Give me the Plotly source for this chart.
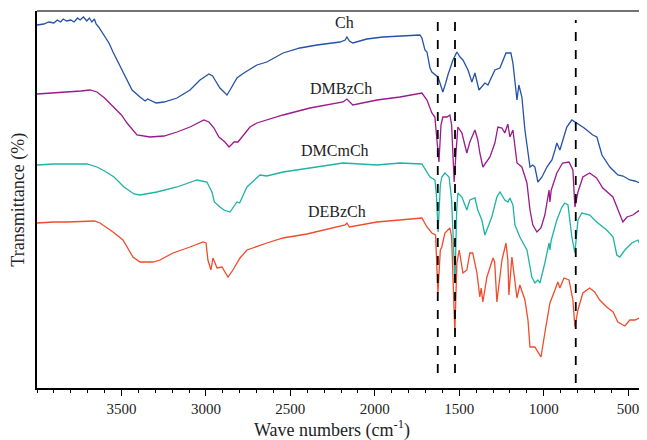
import plotly.graph_objects as go

# ---- data (wavenumber, relative transmittance, offset stacked) ----
ch_wn = [4000,3960,3930,3900,3880,3860,3845,3825,3800,3780,3760,3745,3725,3705,3690,3675,3660,3650,3635,3615,3595,3574,3550,3526,3500,3479,3437,3390,3360,3345,3331,3295,3248,3171,3094,3035,2982,2960,2946,2917,2899,2875,2857,2835,2816,2775,2698,2639,2543,2443,2342,2206,2175,2165,2150,2130,2047,1951,1851,1751,1733,1721,1703,1691,1673,1662,1645,1626,1610,1597,1580,1567,1537,1514,1495,1478,1448,1425,1407,1383,1348,1330,1289,1259,1223,1194,1182,1158,1147,1129,1111,1081,1065,1052,1034,1010,981,951,933,922,904,863,833,803,760,709,685,655,608,561,530,490,460,430,419,410,400]
ch_t = [363,364,366,365,368,366,369,367,368,366,370,368,371,367,370,366,369,364,361,356,351,345,336,328,319,311,298,291,287,289,288,285,286,290,298,308,314,312,308,300,297,293,298,304,310,315,323,326,335,340,343,346,348,351,347,345,349,351,352,353,353,350,338,336,320,316,314,311,303,296,305,313,328,336,331,328,318,306,315,298,305,303,318,320,335,335,325,288,303,291,258,221,223,221,206,211,221,228,238,245,238,261,268,265,260,253,251,233,221,213,212,208,207,205,201,207,203]

dmbz_wn = [4000,3900,3805,3740,3686,3645,3600,3544,3500,3467,3430,3408,3331,3248,3171,3094,3012,2982,2952,2923,2887,2863,2845,2834,2810,2775,2739,2698,2639,2543,2384,2188,2165,2130,1987,1851,1721,1703,1691,1662,1644,1632,1620,1608,1597,1573,1555,1545,1530,1518,1508,1484,1455,1437,1407,1390,1378,1360,1318,1289,1271,1247,1230,1212,1200,1182,1158,1129,1099,1081,1064,1040,1016,993,968,963,955,922,888,850,827,815,797,768,728,687,650,590,560,531,507,472,430,419,405]
dmbz_t = [294,295,296,297,298,296,290,281,273,265,257,253,251,252,256,261,268,266,260,251,246,241,244,246,246,253,261,265,268,273,280,286,289,283,288,291,295,291,288,275,271,248,226,263,271,271,273,263,206,238,261,255,235,246,258,248,235,221,231,245,261,260,255,264,251,258,225,221,205,178,163,156,160,173,198,186,198,215,225,226,218,181,196,211,215,210,200,191,178,166,171,173,178,183,185]

dmcm_wn = [4000,3900,3805,3704,3645,3600,3544,3485,3426,3390,3290,3171,3053,2994,2964,2950,2917,2893,2857,2830,2816,2800,2757,2680,2639,2543,2384,2188,1987,1851,1721,1691,1673,1644,1635,1625,1612,1603,1585,1560,1545,1525,1515,1508,1484,1455,1437,1407,1390,1366,1348,1307,1277,1259,1230,1212,1200,1182,1170,1141,1099,1070,1052,1034,1022,993,968,963,955,922,892,875,856,833,815,797,774,727,686,627,589,567,549,519,478,442,419,405]
dmcm_t = [223,224,224,224,221,217,211,201,194,193,196,201,208,206,196,186,181,178,176,182,186,185,201,213,212,216,220,225,223,225,224,215,211,208,193,156,203,211,215,211,188,105,178,195,191,178,188,190,178,168,153,171,191,196,188,186,190,183,163,151,138,111,105,108,105,125,145,138,148,168,181,185,183,151,135,168,175,173,166,158,151,133,131,138,145,148,140,143]

debz_wn = [4000,3900,3822,3704,3660,3627,3590,3550,3491,3432,3390,3313,3272,3195,3094,3017,2999,2988,2970,2958,2934,2905,2869,2840,2798,2757,2639,2543,2402,2265,2175,2165,2150,1987,1851,1721,1691,1662,1640,1626,1612,1603,1585,1555,1545,1526,1514,1500,1478,1455,1437,1420,1395,1378,1370,1360,1336,1318,1300,1290,1277,1247,1223,1212,1206,1188,1170,1158,1141,1111,1093,1081,1052,1040,1016,993,963,933,916,904,880,850,827,815,797,768,728,698,668,627,589,561,519,490,460,419,405]
debz_t = [165,166,166,167,167,165,161,156,148,131,126,126,128,135,141,146,145,128,118,130,120,121,111,118,130,138,145,150,154,159,163,165,161,166,168,170,161,155,153,95,138,141,155,160,151,56,125,138,115,118,135,135,115,91,100,86,111,120,130,126,86,128,145,128,93,131,108,90,103,88,68,41,41,38,31,55,85,98,106,100,110,108,88,61,78,95,100,96,88,81,76,66,62,68,68,71,73]

series_names = ["Ch", "DMBzCh", "DMCmCh", "DEBzCh"]
series_colors = ["#2452a6", "#9a1a8c", "#1fb3a6", "#f04b2b"]
label_wn = [2177, 2200, 2236, 2224]
label_t = [366, 300, 238, 177]

marker_wn = [1627, 1525, 810]
marker_top = [368, 368, 368]
marker_bottom = [15, 15, 5]

xticks = [3500, 3000, 2500, 2000, 1500, 1000, 500]

FONT = "Liberation Serif, Times New Roman, serif"

fig = go.Figure()
for wn, t, name, col in zip([ch_wn, dmbz_wn, dmcm_wn, debz_wn],
                            [ch_t, dmbz_t, dmcm_t, debz_t],
                            series_names, series_colors):
    fig.add_trace(go.Scatter(x=wn, y=t, mode="lines", name=name,
                             line=dict(color=col, width=1.3), showlegend=False))

for xv, y0, y1 in zip(marker_wn, marker_bottom, marker_top):
    fig.add_trace(go.Scatter(x=[xv, xv], y=[y0, y1], mode="lines",
                             line=dict(color="black", width=1.8, dash="dash"),
                             showlegend=False, hoverinfo="skip"))

for name, xv, yv in zip(series_names, label_wn, label_t):
    fig.add_annotation(x=xv, y=yv, text=name, showarrow=False,
                       font=dict(family=FONT, size=16, color="#222"))

# axis titles as annotations (fixed positions)
fig.add_annotation(xref="paper", yref="paper", x=0.485, y=-0.108, yanchor="middle",
                   text="Wave numbers (cm<sup>-1</sup>)", showarrow=False,
                   font=dict(family=FONT, size=18, color="#222"))
fig.add_annotation(xref="paper", yref="paper", x=-0.031, y=0.5, xanchor="center",
                   yanchor="middle", text="Transmittance (%)", textangle=-90,
                   showarrow=False, font=dict(family=FONT, size=18, color="#222"))

# page body adds an 8px margin, so the figure is sized to fill the window
fig.update_layout(
    width=639, height=432,
    margin=dict(l=29, r=2, t=3, b=52),
    paper_bgcolor="white", plot_bgcolor="white",
    font=dict(family=FONT, size=15, color="#222"),
    xaxis=dict(range=[4000, 400], tickvals=xticks, ticks="outside", ticklen=6,
               tickwidth=1, tickcolor="black", showgrid=False, zeroline=False,
               showline=True, linecolor="black", linewidth=1.5, mirror=False,
               automargin=False,
               minor=dict(dtick=100, ticks="outside", ticklen=3, tickcolor="black")),
    yaxis=dict(range=[0, 377], showticklabels=False, ticks="", showgrid=False,
               zeroline=False, showline=True, linecolor="black", linewidth=1.5,
               automargin=False),
)
fig.add_shape(type="line", xref="paper", yref="paper", x0=0, x1=1, y0=1, y1=1,
              line=dict(color="#444", width=1.5))
fig.add_shape(type="line", xref="paper", yref="paper", x0=1, x1=1, y0=0, y1=1,
              line=dict(color="#aaa", width=1))

fig.write_html("out.html")
